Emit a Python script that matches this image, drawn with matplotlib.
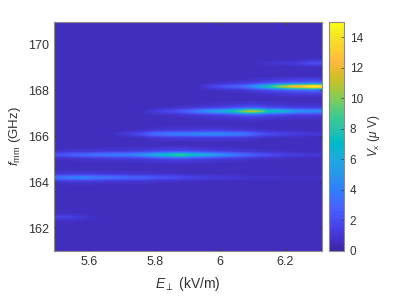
import numpy as np
import matplotlib
matplotlib.use('Agg')
import matplotlib.pyplot as plt
from matplotlib.colors import ListedColormap

plt.rcParams['font.family'] = ['Liberation Sans', 'DejaVu Sans']
plt.rcParams['mathtext.fontset'] = 'custom'
plt.rcParams['mathtext.rm'] = 'Liberation Sans'
plt.rcParams['mathtext.it'] = 'Liberation Sans:italic'
plt.rcParams['mathtext.bf'] = 'Liberation Sans:bold'

# E-field columns (kV/m)
e_start, e_step = 5.49, 0.02
# ridge centre frequencies (GHz)
f_162 = 162.46
f_164 = 164.19
f_165 = 165.18
f_166 = 166.09
f_167 = 167.08
f_168 = 168.16
f_169 = 169.18
# ridge peak amplitude per column (uV)
a_162 = [1.2,1.3,1.2,1.0,.8,.6,.5,.4,.3,.2,.1,0,0,0,0,0,0,0,0,0,0,0,0,0,0,0,0,0,0,0,0,0,0,0,0,0,0,0,0,0,0,0]
a_164 = [3.2,3.4,3.8,4,4,3.9,3.6,3.4,3.2,3,3,2.8,2.6,2.5,2.4,2.2,2,1.9,1.8,1.6,1.4,1.3,1.2,1.1,1,1,.9,.9,.8,.8,.7,.7,.7,.6,.6,.6,.5,.5,.5,.5,.5,.5]
a_165 = [2,2,2.4,2.6,2.8,3,3.2,3.4,3.6,3.7,3.6,3.8,4.2,4.6,5,5.6,6.5,7,7.6,8.5,8,7,6.5,6,5.5,5,4.4,4,3.5,3,2.6,2.2,2,1.8,1.5,1.4,1.2,1.1,1,.9,.8,.8]
a_166 = [0,0,0,0,0,0,0,.1,.3,.5,.8,1,1.3,1.7,2.3,3,3.3,3.5,3.7,3.8,3.9,4,4.2,4.3,4.4,4.3,4.2,4,3.8,3.5,3,2.5,2,1.7,1.5,1.3,1.2,1.1,1,.9,.8,.8]
a_167 = [0,0,0,0,0,0,0,0,0,0,0,0,.1,.3,.6,.9,1.2,1.5,1.7,2,2.5,3,3.7,4.5,5,5.5,6,7,8,9.5,11,10.8,9.5,7.5,7,6.5,6,5,4.8,4.6,4.5,4.5]
a_168 = [0,0,0,0,0,0,0,0,0,0,0,0,0,0,0,0,0,0,0,0,.1,.2,.4,.8,1.2,1.6,2,2.3,2.5,3,3.8,5,6,7.5,9,10.5,11.5,13,13.5,14,15,14.5]
a_169 = [0,0,0,0,0,0,0,0,0,0,0,0,0,0,0,0,0,0,0,0,0,0,0,0,0,0,0,0,.1,.2,.3,.4,.6,.7,.7,.8,.8,.9,1.1,1.4,1.7,1.8]
background = 0.5
# ridge cross-section read across the bands
prof_df = [-0.5,-0.4,-0.3,-0.2,-0.15,-0.1,-0.05,0,0.05,0.1,0.15,0.2,0.3,0.4,0.5]
prof_v = [0,.03,.07,.14,.25,.5,.85,1,.85,.5,.25,.14,.07,.03,0]

yticks = [162,164,166,168,170]
xticks = [5.6,5.8,6,6.2]
xticklabels = ['5.6','5.8','6','6.2']
cticks = [0,2,4,6,8,10,12,14]
parula = [(.2422,.1504,.6603),(.2504,.1650,.7076),(.2578,.1818,.7511),(.2647,.1978,.7952),(.2706,.2147,.8364),(.2751,.2342,.8710),(.2783,.2559,.8991),(.2803,.2782,.9221),(.2813,.3006,.9414),(.2810,.3228,.9579),(.2795,.3447,.9717),(.2760,.3667,.9829),(.2699,.3892,.9906),(.2602,.4123,.9952),(.2440,.4358,.9988),(.2206,.4603,.9973),(.1963,.4847,.9892),(.1834,.5074,.9798),(.1786,.5289,.9682),(.1764,.5499,.9520),(.1687,.5703,.9359),(.1540,.5902,.9218),(.1460,.6091,.9079),(.1380,.6276,.8973),(.1248,.6459,.8883),(.1113,.6635,.8763),(.0952,.6798,.8598),(.0689,.6948,.8394),(.0297,.7082,.8163),(.0036,.7203,.7917),(.0067,.7312,.7660),(.0433,.7411,.7394),(.0964,.7500,.7120),(.1408,.7584,.6842),(.1717,.7670,.6554),(.1938,.7758,.6251),(.2161,.7843,.5923),(.2470,.7918,.5567),(.2906,.7973,.5188),(.3406,.8008,.4789),(.3909,.8029,.4354),(.4456,.8024,.3909),(.5044,.7993,.3480),(.5616,.7942,.3045),(.6174,.7876,.2612),(.6720,.7793,.2227),(.7242,.7698,.1910),(.7738,.7598,.1646),(.8203,.7498,.1535),(.8634,.7406,.1596),(.9035,.7330,.1774),(.9393,.7288,.2100),(.9728,.7298,.2394),(.9956,.7434,.2371),(.9970,.7659,.2199),(.9952,.7893,.2028),(.9892,.8136,.1885),(.9786,.8386,.1766),(.9676,.8639,.1643),(.9610,.8890,.1537),(.9597,.9135,.1423),(.9628,.9373,.1265),(.9691,.9606,.1064),(.9769,.9839,.0805)]
cmap = ListedColormap(parula, name='parula')

ridges = [(f_162,a_162),(f_164,a_164),(f_165,a_165),(f_166,a_166),(f_167,a_167),(f_168,a_168),(f_169,a_169)]
n_e = len(a_164)
e_axis = e_start + e_step*np.arange(n_e)
f_axis = np.arange(161.0, 171.0001, 0.025)
Z = np.full((len(f_axis), n_e), float(background))
for fc, amp in ridges:
    shape = np.interp(f_axis - fc, prof_df, prof_v)
    Z += np.outer(shape, np.clip(np.array(amp) - background*0.5, 0, None))

W, H = 397, 297
fig = plt.figure(figsize=(W/100, H/100), dpi=100, facecolor='white')
ax = fig.add_axes([53.5/W, 1-251/H, 268/W, 229.3/H])
gray = '#333333'
edge = '#8c8c8c'
im = ax.imshow(Z, origin='lower', aspect='auto', cmap=cmap, vmin=0, vmax=15,
               extent=[e_axis[0], e_axis[-1], f_axis[0], f_axis[-1]],
               interpolation='bilinear')
ax.set_xlim(5.49, 6.31)
ax.set_ylim(161, 171)
ax.set_xticks(xticks, xticklabels)
ax.set_yticks(yticks)
ax.tick_params(direction='in', top=True, right=True, length=2.5, width=0.5,
               color='#333333', labelcolor=gray, labelsize=9, pad=3.5)
for s in ax.spines.values():
    s.set_color(edge); s.set_linewidth(0.8)
ax.set_xlabel(r'$E_{\perp}$ (kV/m)', fontsize=10, color=gray, labelpad=5)
ax.set_ylabel(r'$f_{\mathrm{mm}}$ (GHz)', fontsize=9.5, color=gray, labelpad=3)

cax = fig.add_axes([329.3/W, 1-250.7/H, 15/W, 228.7/H])
cb = fig.colorbar(im, cax=cax, ticks=cticks)
cb.ax.tick_params(direction='in', length=2, width=0.5, color='#333333', labelcolor=gray, labelsize=8.5, pad=4)
cb.outline.set_edgecolor(edge); cb.outline.set_linewidth(0.8)
cb.set_label(r'$V_{\mathrm{x}}$ ($\mu$ V)', fontsize=8.5, color=gray, labelpad=2)

fig.savefig('out.png', dpi=100)
